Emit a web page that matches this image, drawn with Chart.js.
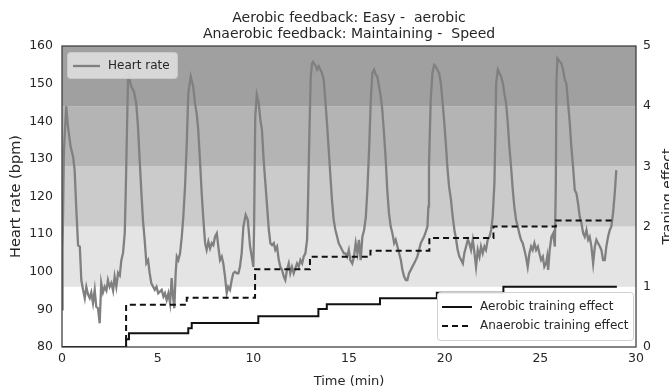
<!DOCTYPE html>
<html>
<head>
<meta charset="utf-8">
<script src="https://cdn.jsdelivr.net/npm/chart.js@4"></script>
<style>
html,body{margin:0;padding:0;background:#fff;}
#wrap{width:669px;height:390px;position:relative;}
</style>
</head>
<body>
<div id="wrap"><canvas id="c" width="669" height="390"></canvas></div>
<script>
// ---- data ----
const titleLines = ["Aerobic feedback: Easy -  aerobic", "Anaerobic feedback: Maintaining -  Speed"];
const xTitle = "Time (min)";
const yTitle = "Heart rate (bpm)";
const y2Title = "Traning effect";
const xTicks = [0, 5, 10, 15, 20, 25, 30];
const hrTicks = [80, 90, 100, 110, 120, 130, 140, 150, 160];
const teTicks = [0, 1, 2, 3, 4, 5];
const zoneEdges = [1, 2, 3, 4, 5];

const hrTime = [0,0.03,0.1,0.22,0.31,0.45,0.58,0.66,0.75,0.84,0.93,1.01,1.10,1.19,1.27,1.36,1.45,1.53,1.62,1.71,1.79,1.88,1.97,2.05,2.14,2.23,2.32,2.40,2.49,2.58,2.67,2.75,2.84,2.93,3.02,3.10,3.19,3.28,3.33,3.40,3.45,3.49,3.62,3.76,3.88,3.97,4.06,4.15,4.23,4.32,4.41,4.50,4.58,4.67,4.85,4.94,5.03,5.21,5.30,5.38,5.47,5.56,5.65,5.73,5.82,5.87,5.94,6.00,6.08,6.17,6.26,6.34,6.43,6.52,6.60,6.73,6.86,6.95,7.04,7.12,7.21,7.30,7.39,7.48,7.56,7.65,7.74,7.83,7.91,8.00,8.09,8.17,8.26,8.35,8.43,8.52,8.61,8.69,8.78,8.87,8.95,9.04,9.13,9.22,9.30,9.39,9.48,9.60,9.71,9.83,9.92,10.00,10.04,10.10,10.18,10.28,10.37,10.45,10.54,10.63,10.72,10.81,10.89,10.98,11.07,11.15,11.24,11.33,11.41,11.50,11.59,11.67,11.76,11.85,11.93,12.02,12.11,12.20,12.28,12.37,12.46,12.55,12.63,12.72,12.81,12.86,12.93,13.00,13.07,13.12,13.24,13.33,13.42,13.50,13.59,13.68,13.76,13.85,13.94,14.03,14.11,14.20,14.29,14.38,14.46,14.55,14.64,14.73,14.81,14.90,14.99,15.07,15.17,15.26,15.35,15.44,15.52,15.61,15.70,15.79,15.88,15.96,16.05,16.14,16.22,16.31,16.40,16.48,16.57,16.66,16.74,16.83,16.92,17.00,17.09,17.18,17.27,17.36,17.44,17.53,17.62,17.71,17.79,17.88,17.97,18.05,18.14,18.23,18.31,18.40,18.49,18.57,18.66,18.75,18.84,18.92,19.01,19.10,19.15,19.18,19.27,19.36,19.45,19.53,19.62,19.71,19.80,19.88,19.97,20.06,20.14,20.23,20.33,20.42,20.51,20.60,20.68,20.77,20.86,20.95,21.03,21.12,21.21,21.29,21.38,21.47,21.56,21.64,21.73,21.82,21.90,21.99,22.08,22.16,22.25,22.34,22.43,22.51,22.60,22.65,22.69,22.78,22.86,22.95,23.04,23.12,23.21,23.30,23.38,23.47,23.56,23.64,23.73,23.82,23.90,23.99,24.08,24.17,24.25,24.34,24.43,24.52,24.60,24.69,24.78,24.87,24.95,25.04,25.13,25.21,25.30,25.36,25.41,25.49,25.58,25.67,25.76,25.81,25.84,25.89,26.02,26.10,26.19,26.28,26.36,26.45,26.54,26.62,26.71,26.80,26.89,26.97,27.06,27.15,27.24,27.32,27.41,27.50,27.58,27.67,27.76,27.85,27.93,28.02,28.11,28.19,28.28,28.37,28.45,28.54,28.63,28.71,28.80,28.89,28.97];
const hrBpm = [90,106,132,144,138.6,133.3,130.6,127,116.4,107,106.7,97.8,95.2,93,96,94,93,94.5,91.7,95.2,90.7,90.3,86.3,97,94.5,96,95,97.8,96,97,95,98.7,96,99.7,99,103,105,110.3,121,138.6,151,151.9,149.2,147.9,144.8,138.6,129.7,120.9,113.8,108.5,102.3,103.1,99.7,96.9,95.2,96,94.3,95.2,93.4,94.3,92.5,94.3,91.6,98.3,92.5,90.3,99.6,104,103.1,104.9,109.3,114.6,122.6,134.1,147.4,151.9,149.2,144.8,142.1,137.7,129.7,120.9,113.8,107.6,105.8,108,106.2,107.6,107.1,109.3,110.2,106.7,103.1,104,102.2,98.7,94.3,96,95.2,97.8,99.6,100,99.6,99.6,101.3,104.9,112,115.1,113.8,106.7,104,101.3,112,141.2,147,144.8,140.3,137.7,129.7,123.5,117.3,111.1,107.6,107.1,107.6,105.8,106.7,103.1,101.3,100.5,98.7,97.8,100.5,102.2,99.6,101.3,99.6,101,102.2,101.3,103.1,102.2,104,104.9,108.5,119.1,136.8,151.9,155.4,155.8,154.9,153.7,154.6,153.7,152.8,151,145.7,139.5,132.4,125.3,119.1,113.8,111.1,109.3,107.6,106.7,105.8,104.9,104.9,104,105.8,103.1,102.2,104,107.6,104.9,108.5,103.1,109.3,111.1,114.6,121.7,132.4,145.7,152.8,153.7,152.4,151.9,149.2,146.6,143,136.8,129.7,121.7,115.5,112,110.2,107.6,108.5,106.7,104.9,103.1,100.5,98.7,97.8,97.8,99.6,100.5,101.3,102.2,103.1,104,105.8,107.6,108.5,109.3,110.6,112,117.3,127.9,145.7,152.8,155,154.6,153.7,152.8,150.1,145.7,140.3,134.1,127.9,122.6,119.1,114.6,111.1,108.5,105.8,104,103.1,102.2,105,106.7,108.5,107.6,105.8,108.5,104.9,101.3,105.8,104,106.7,104.9,106.7,105.8,108.5,109.3,111.1,114.6,123.5,136.8,150.1,153.7,152.8,151.9,150.1,147.4,144.8,139.5,133.3,127.9,121.7,117.3,113.8,112,110.2,108.5,107.6,105.8,104,101.3,104.9,106.7,105.8,107.6,105.8,106.7,104.9,103.1,104,101.3,102.2,104,100.5,105.8,109.3,110.2,106.7,123.5,150.1,156.7,155.8,155.4,153.7,151,150.1,144.8,139.5,133.3,127.9,121.7,120.8,118.2,114.6,112.9,110.2,109.3,111.1,108.5,109.3,106.7,102.2,106.7,108.5,107.6,106.7,105.8,103.1,103.1,106.7,109.3,111.1,112,115.5,120.9,127];

const aeroTime = [0, 3.35, 3.5, 6.6, 6.78, 10.26, 13.4, 13.84, 16.62, 19.59, 23.07, 29.0];
const aeroEffect = [0, 0.13, 0.23, 0.31, 0.40, 0.51, 0.63, 0.71, 0.81, 0.90, 1.0, 1.0];
const anaeroTime = [0, 3.35, 6.52, 10.09, 12.96, 16.12, 19.2, 22.55, 25.81, 28.9];
const anaeroEffect = [0, 0.70, 0.82, 1.29, 1.50, 1.60, 1.81, 2.0, 2.10, 2.10];

const seriesLabels = ["Heart rate", "Aerobic training effect", "Anaerobic training effect"];

// ---- styles ----
const zoneColors = ["#e4e4e4", "#cbcbcb", "#b4b4b4", "#a0a0a0"];
const FONT = "'DejaVu Sans', sans-serif";
const TXT = "#262626";

const toXY = (xs, ys) => xs.map((x, i) => ({x: x, y: ys[i]}));

const bgPlugin = {
  id: 'bg',
  beforeDatasetsDraw(chart) {
    const {ctx, chartArea: a, scales} = chart;
    const s = scales.y2;
    ctx.save();
    for (let i = 0; i < zoneEdges.length - 1; i++) {
      const yTop = s.getPixelForValue(zoneEdges[i + 1]);
      const yBot = s.getPixelForValue(zoneEdges[i]);
      ctx.fillStyle = zoneColors[i];
      ctx.fillRect(a.left, yTop, a.right - a.left, yBot - yTop);
    }
    ctx.restore();
  },
  afterDatasetsDraw(chart) {
    const {ctx, chartArea: a} = chart;
    ctx.save();
    ctx.strokeStyle = "#3a3a3a";
    ctx.lineWidth = 1.25;
    ctx.strokeRect(a.left, a.top, a.right - a.left, a.bottom - a.top);
    ctx.fillStyle = TXT;
    ctx.font = "14px " + FONT;
    ctx.textAlign = "center";
    ctx.textBaseline = "alphabetic";
    const cx = (a.left + a.right) / 2;
    ctx.fillText(titleLines[0], cx, 22);
    ctx.fillText(titleLines[1], cx, 38);
    ctx.font = "13px " + FONT;
    ctx.fillText(xTitle, cx, 385);
    ctx.save();
    ctx.font = "14.5px " + FONT;
    ctx.translate(16, (a.top + a.bottom) / 2);
    ctx.rotate(-Math.PI / 2);
    ctx.textBaseline = "middle";
    ctx.fillText(yTitle, 0, 0);
    ctx.restore();
    ctx.save();
    ctx.font = "14px " + FONT;
    ctx.translate(672, (a.top + a.bottom) / 2);
    ctx.rotate(-Math.PI / 2);
    ctx.textBaseline = "alphabetic";
    ctx.fillText(y2Title, 0, 0);
    ctx.restore();
    const ds = chart.data.datasets;
    function rr(x, y, w, h, r, fill, stroke) {
      ctx.beginPath();
      ctx.moveTo(x + r, y);
      ctx.lineTo(x + w - r, y); ctx.quadraticCurveTo(x + w, y, x + w, y + r);
      ctx.lineTo(x + w, y + h - r); ctx.quadraticCurveTo(x + w, y + h, x + w - r, y + h);
      ctx.lineTo(x + r, y + h); ctx.quadraticCurveTo(x, y + h, x, y + h - r);
      ctx.lineTo(x, y + r); ctx.quadraticCurveTo(x, y, x + r, y);
      ctx.closePath();
      ctx.fillStyle = fill; ctx.fill();
      ctx.strokeStyle = stroke; ctx.lineWidth = 1; ctx.stroke();
    }
    rr(67.5, 52.5, 110, 26, 3, "rgba(226,226,226,0.85)", "#c8c8c8");
    ctx.strokeStyle = ds[0].borderColor; ctx.lineWidth = ds[0].borderWidth; ctx.setLineDash([]);
    ctx.beginPath(); ctx.moveTo(73, 66); ctx.lineTo(100, 66); ctx.stroke();
    ctx.fillStyle = TXT; ctx.font = "12px " + FONT; ctx.textAlign = "left"; ctx.textBaseline = "middle";
    ctx.fillText(ds[0].label, 108, 66);
    rr(437.5, 292.5, 196, 48, 3, "rgba(255,255,255,0.9)", "#d0d0d0");
    [[1, 307], [2, 326]].forEach(([i, yy]) => {
      ctx.strokeStyle = ds[i].borderColor; ctx.lineWidth = ds[i].borderWidth;
      ctx.setLineDash(ds[i].borderDash || []);
      ctx.beginPath(); ctx.moveTo(442, yy); ctx.lineTo(472, yy); ctx.stroke();
      ctx.setLineDash([]);
      ctx.fillStyle = TXT;
      ctx.fillText(ds[i].label, 480, yy);
    });
    ctx.restore();
  }
};

new Chart(document.getElementById('c'), {
  type: 'line',
  data: {
    datasets: [
      {label: seriesLabels[0], data: toXY(hrTime, hrBpm), yAxisID: 'y', borderColor: '#808080', borderWidth: 2.3, pointRadius: 0, tension: 0, order: 3},
      {label: seriesLabels[1], data: toXY(aeroTime, aeroEffect), yAxisID: 'y2', borderColor: '#111', borderWidth: 2, pointRadius: 0, stepped: 'before', order: 2},
      {label: seriesLabels[2], data: toXY(anaeroTime, anaeroEffect), yAxisID: 'y2', borderColor: '#111', borderWidth: 2, borderDash: [6, 4], pointRadius: 0, stepped: 'before', order: 1}
    ]
  },
  options: {
    responsive: false,
    animation: false,
    layout: {padding: {top: 46, left: 0, right: 0, bottom: 0}},
    plugins: {legend: {display: false}, title: {display: false}, tooltip: {enabled: false}},
    scales: {
      x: {
        type: 'linear', min: 0, max: 30,
        afterBuildTicks: (s) => { s.ticks = xTicks.map(v => ({value: v})); },
        grid: {display: false, drawTicks: false},
        border: {display: false},
        ticks: {color: TXT, font: {family: FONT, size: 12.5}, padding: 4, maxRotation: 0},
        afterFit: (s) => { s.height = 43; }
      },
      y: {
        position: 'left', min: 80, max: 160,
        afterBuildTicks: (s) => { s.ticks = hrTicks.map(v => ({value: v})); },
        grid: {display: false, drawTicks: false},
        border: {display: false},
        ticks: {color: TXT, font: {family: FONT, size: 12.5}, padding: 9},
        afterFit: (s) => { s.width = 62; }
      },
      y2: {
        position: 'right', min: 0, max: 5,
        afterBuildTicks: (s) => { s.ticks = teTicks.map(v => ({value: v})); },
        grid: {display: false, drawTicks: false},
        border: {display: false},
        ticks: {color: TXT, font: {family: FONT, size: 12.5}, padding: 7},
        afterFit: (s) => { s.width = 33; }
      }
    }
  },
  plugins: [bgPlugin]
});
</script>
</body>
</html>
